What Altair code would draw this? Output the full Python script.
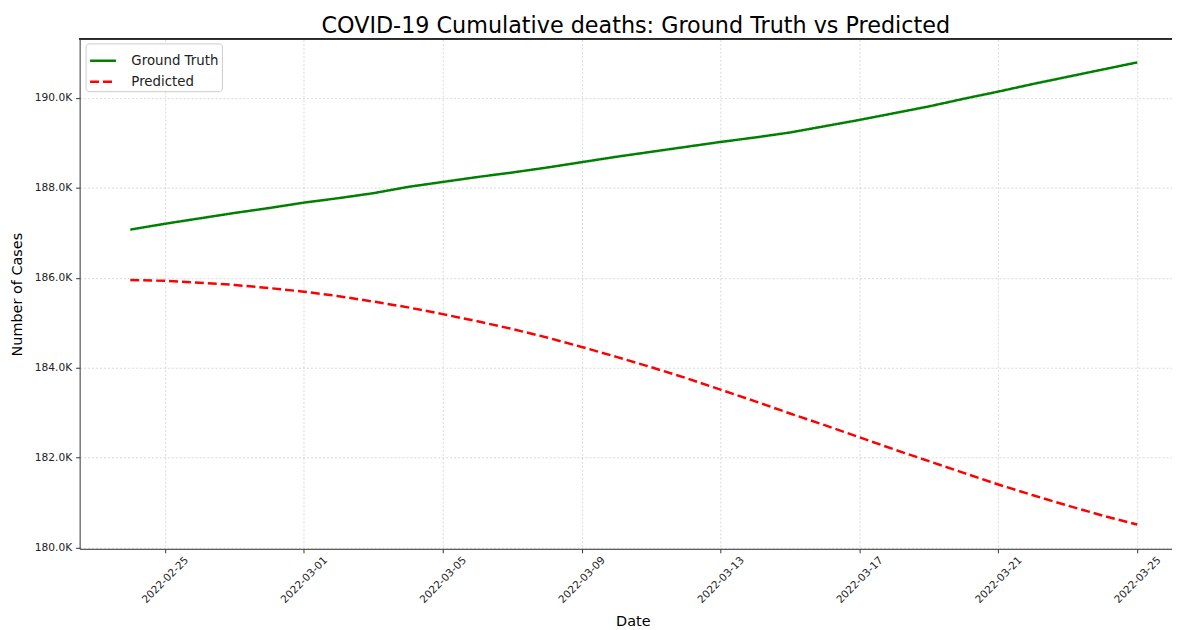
import altair as alt
import pandas as pd

dates = pd.date_range("2022-02-24", "2022-03-25", freq="D").strftime("%Y-%m-%dT00:00:00").tolist()

ground_truth = [
    187070, 187200, 187320, 187440, 187550, 187670, 187770, 187880, 188020, 188130,
    188240, 188340, 188450, 188570, 188690, 188800, 188910, 189020, 189120, 189230,
    189370, 189510, 189660, 189810, 189980, 190140, 190310, 190470, 190630, 190790,
]
predicted = [
    185950, 185930, 185890, 185840, 185770, 185690, 185590, 185470, 185340, 185190,
    185030, 184860, 184670, 184460, 184240, 184010, 183770, 183510, 183250, 182980,
    182720, 182450, 182180, 181920, 181660, 181400, 181160, 180930, 180710, 180510,
]
series_names = ["Ground Truth", "Predicted"]
series_colors = ["green", "red"]
y_ticks = [180000, 182000, 184000, 186000, 188000, 190000]
x_tick_days = [(2, 25), (3, 1), (3, 5), (3, 9), (3, 13), (3, 17), (3, 21), (3, 25)]

rows = []
for d, v in zip(dates, ground_truth):
    rows.append({"date": d, "value": v, "series": series_names[0]})
for d, v in zip(dates, predicted):
    rows.append({"date": d, "value": v, "series": series_names[1]})
df = pd.DataFrame(rows)

FONT = "DejaVu Sans"
W, H = 1098, 512

x_values = [alt.DateTime(year=2022, month=m, date=dd) for m, dd in x_tick_days]

legend_opts = dict(
    title=None,
    orient="none",
    legendX=6,
    legendY=4,
    fillColor="white",
    strokeColor="#cccccc",
    cornerRadius=3,
    padding=3,
    labelFontSize=13.4,
    labelOffset=14,
    symbolType="stroke",
    symbolSize=676,
    symbolStrokeWidth=2.5,
    rowPadding=-4,
)

lines = alt.Chart(df).mark_line(strokeWidth=2.5).encode(
    x=alt.X(
        "date:T",
        scale=alt.Scale(
            domain=[
                alt.DateTime(year=2022, month=2, date=22, hours=13),
                alt.DateTime(year=2022, month=3, date=26, hours=0),
            ]
        ),
        axis=alt.Axis(
            title="Date",
            values=x_values,
            labelExpr="timeFormat(datum.value, '%Y-%m-%d')",
            labelAngle=-45,
            labelAlign="center",
            labelBaseline="middle",
            labelPadding=27,
            labelFontSize=10.5,
            tickSize=4,
            titleX=556,
            titleY=77,
            titleBaseline="alphabetic",
            titleAlign="center",
            titleFontSize=14.5,
            labelOverlap=False,
        ),
    ),
    y=alt.Y(
        "value:Q",
        scale=alt.Scale(domain=[179970, 191300], nice=False, zero=False),
        axis=alt.Axis(
            title="Number of Cases",
            values=y_ticks,
            labelExpr="format(datum.value / 1000, '.1f') + 'K'",
            labelFontSize=10.7,
            labelPadding=4,
            tickSize=4,
            titleX=-62,
            titleY=256,
            titleAngle=-90,
            titleAlign="center",
            titleBaseline="middle",
            titleFontSize=14.5,
        ),
    ),
    color=alt.Color(
        "series:N",
        scale=alt.Scale(domain=series_names, range=series_colors),
        legend=alt.Legend(**legend_opts),
    ),
    strokeDash=alt.StrokeDash(
        "series:N",
        scale=alt.Scale(domain=series_names, range=[[1, 0], [9, 4]]),
        legend=alt.Legend(**legend_opts),
    ),
)

top_rule = alt.Chart(df).mark_rule(color="#333333", strokeWidth=1).encode(
    x=alt.value(0), x2=alt.value(W), y=alt.value(0)
)

chart = alt.layer(lines, top_rule).properties(
    width=W,
    height=H,
    title=alt.TitleParams(
        "COVID-19 Cumulative deaths: Ground Truth vs Predicted",
        fontSize=22.4,
        font=FONT,
        fontWeight="normal",
        anchor="middle",
        dx=10,
        offset=2,
        color="#000000",
    ),
    autosize=alt.AutoSizeParams(type="none"),
    padding={"left": 72, "top": 30, "right": 0, "bottom": 78},
).configure(font=FONT).configure_view(stroke=None).configure_axis(
    labelFont=FONT,
    titleFont=FONT,
    labelColor="#222222",
    titleColor="#000000",
    titleFontWeight="normal",
    domainColor="#333333",
    domainWidth=1,
    tickColor="#333333",
    grid=True,
    gridColor="#b0b0b0",
    gridOpacity=0.6,
    gridDash=[2, 2],
    gridWidth=0.8,
).configure_legend(labelFont=FONT, labelColor="#222222")

chart.save("out.html", embed_options={"renderer": "svg", "actions": False})
